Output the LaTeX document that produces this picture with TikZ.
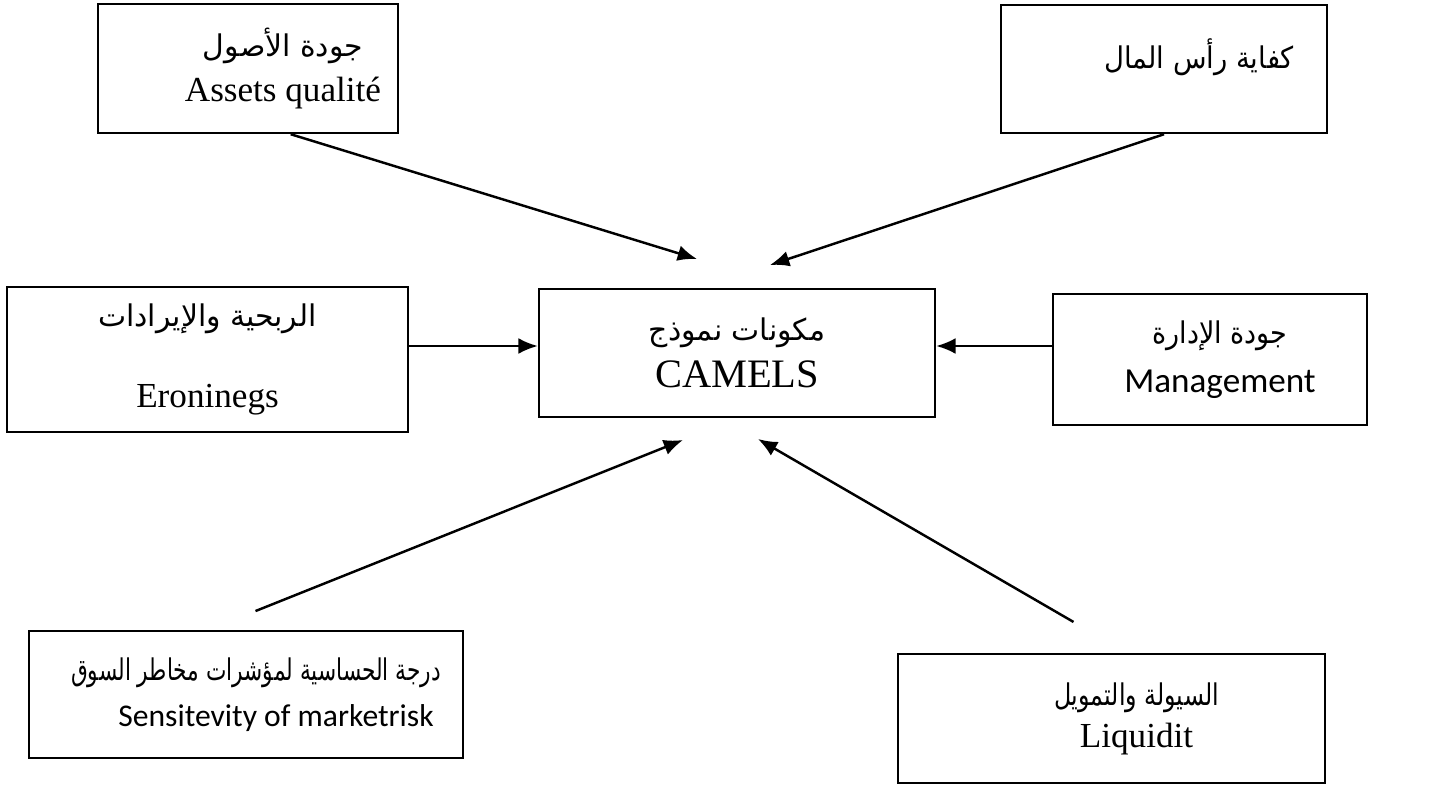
\documentclass[tikz,border=0pt]{standalone}
\usepackage{fontspec}
\usepackage{graphicx}
\setmainfont{Liberation Serif}
\newfontfamily\arabicfont[Script=Arabic]{DejaVu Sans}
\newfontfamily\calibrifont{Carlito}
\TeXXeTstate=1
\newcommand{\artxt}[1]{{\arabicfont\fontsize{17}{20}\selectfont #1}}
\newcommand{\arfit}[2]{\resizebox{#1}{\height}{\artxt{#2}}}
\newcommand{\sanstxt}[2]{{\calibrifont\fontsize{#1}{24}\selectfont #2}}
\usetikzlibrary{arrows.meta}

\begin{document}
\begin{tikzpicture}[x=0.02cm,y=-0.02cm,->,>={Latex[length=11pt,width=9pt]},line width=1.4pt]
                \useasboundingbox (0,0) rectangle (1435,784);
                \tikzset{box/.style={shape=rectangle,draw=black,align=center,inner sep=0pt,font=\fontsize{20}{26}\selectfont}}
                \node[box,minimum width=6cm,minimum height=2.58cm](quality)at(248, 68.5){\hspace*{1.4cm}\artxt{\beginR جودة الأصول\endR}\\\hspace*{1.4cm}Assets qualité};
                \node[box,minimum width=6.52cm,minimum height=2.56cm,text depth=17pt](capital)at(1164, 69){\hspace*{1.4cm}\arfit{3.8cm}{\beginR كفاية رأس المال\endR}};
                \node[box,minimum width=8.02cm,minimum height=2.9cm](earnings)at(207.5, 359.5){\artxt{\beginR الربحية والإيرادات\endR}\\[20pt]Eroninegs};
                \node[box,minimum width=7.92cm,minimum height=2.56cm](camels)at(737, 353){\artxt{\beginR مكونات نموذج\endR}\\[1pt]{\fontsize{23}{26}\selectfont CAMELS}};
                \node[box,minimum width=6.28cm,minimum height=2.62cm](management)at(1210, 359.5){\hspace*{0.4cm}\arfit{2.7cm}{\beginR جودة الإدارة\endR}\\[2pt]\hspace*{0.4cm}\sanstxt{20}{Management}};
                \node[box,minimum width=8.68cm,minimum height=2.54cm](sensitivity)at(246, 694.5){\hspace*{0.4cm}\arfit{7.4cm}{\beginR درجة الحساسية لمؤشرات مخاطر السوق\endR}\\\hspace*{1.2cm}\sanstxt{18}{Sensitevity of marketrisk}};
                \node[box,minimum width=8.54cm,minimum height=2.58cm](liquidity)at(1111.5, 718.5){\hspace*{1cm}\arfit{3.3cm}{\beginR السيولة والتمويل\endR}\\[-2pt]\hspace*{1cm}Liquidit};
                \coordinate (tipA) at (697, 259);
                \coordinate (tipB) at (770, 265);
                \coordinate (tipE) at (683, 440);
                \coordinate (tipF) at (758, 439);
                \coordinate (row) at (0, 346);
                \path (quality.-57) edge (tipA)
                (capital.south) edge (tipB)
                (earnings.east |- row) edge (camels.west |- row)
                (management.west |- row) edge (camels.east |- row)
                (sensitivity.120) edge [shorten <=1.01cm] (tipE)
                (liquidity.77) edge [shorten <=1.23cm] (tipF);
            \end{tikzpicture}
\end{document}
